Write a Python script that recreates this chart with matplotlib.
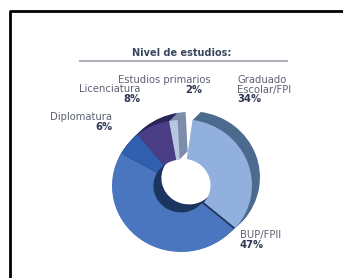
import matplotlib.pyplot as plt
from matplotlib.transforms import Affine2D

# Nivel de estudios
labels = ["Graduado\nEscolar/FPI", "BUP/FPII", "Diplomatura", "Licenciatura", "Estudios primarios"]
values = [34, 47, 6, 8, 2]
top_colors = ["#92b0de", "#4a76c0", "#2f5fae", "#4a3d86", "#b9c6e0"]
side_colors = ["#4b6a8e", "#1c355e", "#1b3b72", "#2c2559", "#7d8cab"]
explode = [0.03, 0, 0, 0, 0]

fig = plt.figure(figsize=(3.43, 2.78), dpi=100)
ax = fig.add_axes([0, 0, 1, 1])

cx, cy = 181, 186       # centre of the top face (pixels, y down)
rx, ry = 69, 66
dx, dy = 8, 8           # depth of the donut (up and right)
fracs = [v / 100 for v in values]


def donut(colors, ox, oy, z):
    wedges, _ = ax.pie(fracs, colors=colors, startangle=82, counterclock=False,
                       normalize=False, explode=explode,
                       wedgeprops=dict(width=0.6, linewidth=0))
    tr = Affine2D().scale(rx, -ry).translate(cx + ox, cy + oy) + ax.transData
    for w in wedges:
        w.set_transform(tr)
        w.set_zorder(z)


# side layers first, then the top face
n = 12
for k in range(n, 0, -1):
    donut(side_colors, dx * k / n, -dy * k / n, 1)
donut(top_colors, 0, 0, 2)

ax.set_xlim(0, 343)
ax.set_ylim(278, 0)
ax.set_aspect("auto")
ax.axis("off")

# frame (only top and left edges are in the crop)
ax.plot([10, 10, 343], [278, 11, 11], color="black", lw=2, solid_capstyle="butt")

# title and rule
ax.text(182, 53, "Nivel de estudios:", ha="center", va="center", fontsize=7,
        fontweight="bold", color="#3a4660")
ax.plot([80, 287], [61, 61], color="#b0b0b8", lw=1.5)

name_c = "#5e6272"
pct_c = "#2c3652"
fs = 7.2
step = 9.7
pos = [(237, 80, "left"), (240, 235, "left"), (112, 117, "right"),
       (140, 89, "right"), (211, 80, "right")]
for lab, v, (x, y, ha) in zip(labels, values, pos):
    lines = lab.split("\n")
    for i, line in enumerate(lines):
        ax.text(x, y + step * i, line, ha=ha, va="center", fontsize=fs, color=name_c)
    px = 202 if lab == "Estudios primarios" else x
    ax.text(px, y + step * len(lines), f"{v}%", ha=ha, va="center", fontsize=fs,
            fontweight="bold", color=pct_c)

fig.savefig("out.png", dpi=100)
